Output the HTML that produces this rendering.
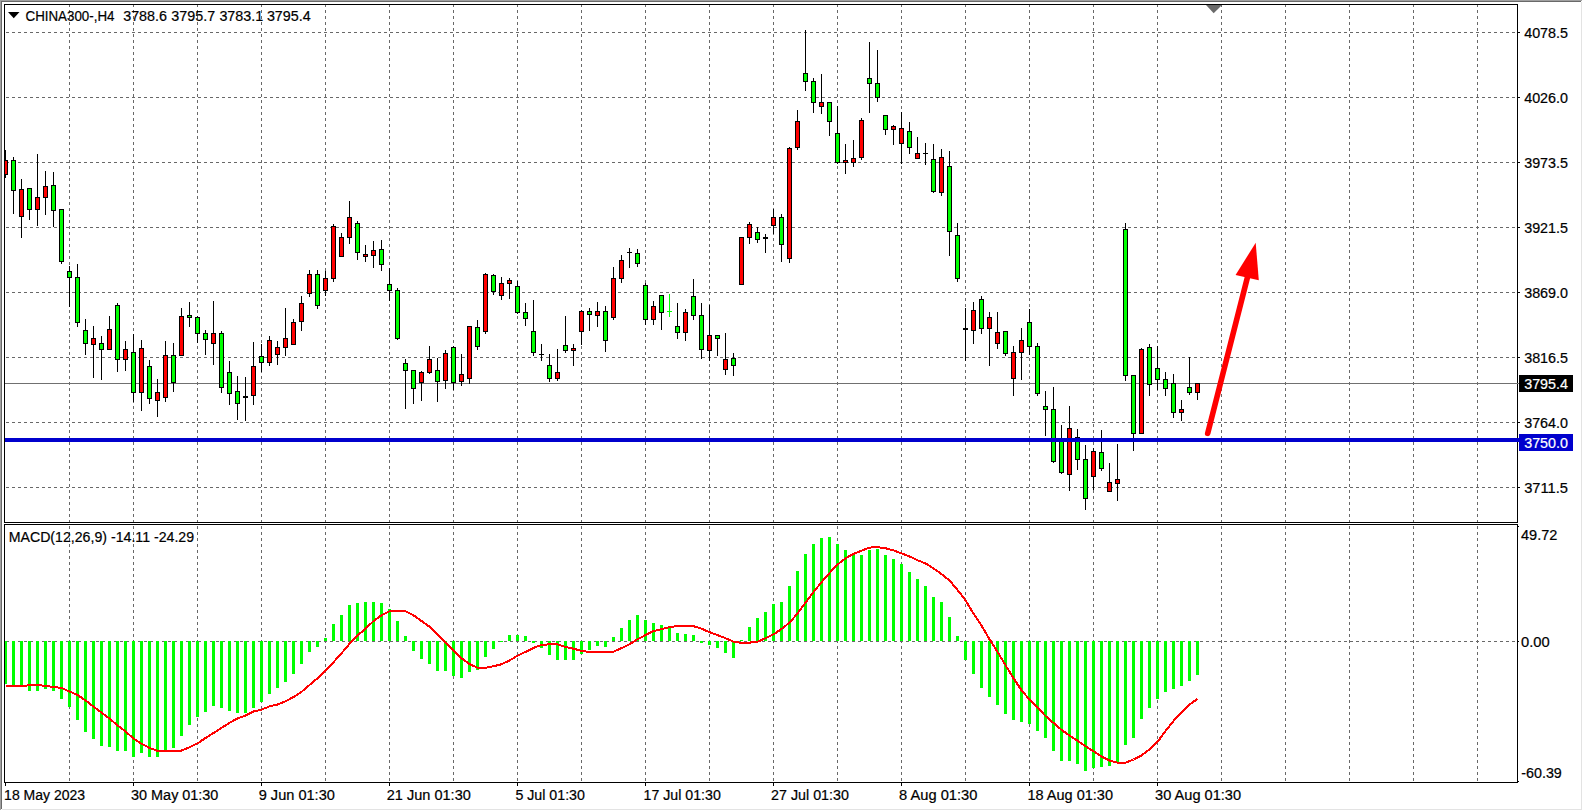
<!DOCTYPE html>
<html><head><meta charset="utf-8"><title>CHINA300-,H4</title>
<style>
html,body{margin:0;padding:0;background:#fff;}
body{width:1583px;height:811px;overflow:hidden;}
svg{display:block;}
text{font-family:"Liberation Sans",sans-serif;font-size:14px;fill:#000;stroke:#000;stroke-width:0.2px;}
.w{fill:#fff;stroke:#fff;}
</style></head><body>
<svg width="1583" height="811" viewBox="0 0 1583 811">
<rect x="0" y="0" width="1583" height="811" fill="#fff"/>

<g shape-rendering="crispEdges">
<rect x="0" y="0" width="1582" height="1" fill="#a0a0a0"/>
<rect x="0" y="0" width="1" height="810" fill="#a0a0a0"/>
<rect x="1" y="1" width="1580" height="1" fill="#696969"/>
<rect x="1" y="1" width="1" height="808" fill="#696969"/>
<rect x="1581" y="2" width="1" height="808" fill="#e3e3e3"/>
<rect x="2" y="809" width="1580" height="1" fill="#e3e3e3"/>
</g>
<g shape-rendering="crispEdges" stroke="#686868" stroke-width="1" fill="none">
<line x1="6" y1="32.5" x2="1517" y2="32.5" stroke-dasharray="3 3"/>
<line x1="6" y1="97.5" x2="1517" y2="97.5" stroke-dasharray="3 3"/>
<line x1="6" y1="162.5" x2="1517" y2="162.5" stroke-dasharray="3 3"/>
<line x1="6" y1="227.5" x2="1517" y2="227.5" stroke-dasharray="3 3"/>
<line x1="6" y1="292.5" x2="1517" y2="292.5" stroke-dasharray="3 3"/>
<line x1="6" y1="357.5" x2="1517" y2="357.5" stroke-dasharray="3 3"/>
<line x1="6" y1="422.5" x2="1517" y2="422.5" stroke-dasharray="3 3"/>
<line x1="6" y1="487.5" x2="1517" y2="487.5" stroke-dasharray="3 3"/>
<line x1="6" y1="641.5" x2="1517" y2="641.5" stroke-dasharray="3 3"/>
<line x1="69.5" y1="4" x2="69.5" y2="522" stroke-dasharray="3 3"/>
<line x1="69.5" y1="526" x2="69.5" y2="782" stroke-dasharray="3 3"/>
<line x1="133.5" y1="4" x2="133.5" y2="522" stroke-dasharray="3 3"/>
<line x1="133.5" y1="526" x2="133.5" y2="782" stroke-dasharray="3 3"/>
<line x1="197.5" y1="4" x2="197.5" y2="522" stroke-dasharray="3 3"/>
<line x1="197.5" y1="526" x2="197.5" y2="782" stroke-dasharray="3 3"/>
<line x1="261.5" y1="4" x2="261.5" y2="522" stroke-dasharray="3 3"/>
<line x1="261.5" y1="526" x2="261.5" y2="782" stroke-dasharray="3 3"/>
<line x1="325.5" y1="4" x2="325.5" y2="522" stroke-dasharray="3 3"/>
<line x1="325.5" y1="526" x2="325.5" y2="782" stroke-dasharray="3 3"/>
<line x1="389.5" y1="4" x2="389.5" y2="522" stroke-dasharray="3 3"/>
<line x1="389.5" y1="526" x2="389.5" y2="782" stroke-dasharray="3 3"/>
<line x1="453.5" y1="4" x2="453.5" y2="522" stroke-dasharray="3 3"/>
<line x1="453.5" y1="526" x2="453.5" y2="782" stroke-dasharray="3 3"/>
<line x1="517.5" y1="4" x2="517.5" y2="522" stroke-dasharray="3 3"/>
<line x1="517.5" y1="526" x2="517.5" y2="782" stroke-dasharray="3 3"/>
<line x1="581.5" y1="4" x2="581.5" y2="522" stroke-dasharray="3 3"/>
<line x1="581.5" y1="526" x2="581.5" y2="782" stroke-dasharray="3 3"/>
<line x1="645.5" y1="4" x2="645.5" y2="522" stroke-dasharray="3 3"/>
<line x1="645.5" y1="526" x2="645.5" y2="782" stroke-dasharray="3 3"/>
<line x1="709.5" y1="4" x2="709.5" y2="522" stroke-dasharray="3 3"/>
<line x1="709.5" y1="526" x2="709.5" y2="782" stroke-dasharray="3 3"/>
<line x1="773.5" y1="4" x2="773.5" y2="522" stroke-dasharray="3 3"/>
<line x1="773.5" y1="526" x2="773.5" y2="782" stroke-dasharray="3 3"/>
<line x1="837.5" y1="4" x2="837.5" y2="522" stroke-dasharray="3 3"/>
<line x1="837.5" y1="526" x2="837.5" y2="782" stroke-dasharray="3 3"/>
<line x1="901.5" y1="4" x2="901.5" y2="522" stroke-dasharray="3 3"/>
<line x1="901.5" y1="526" x2="901.5" y2="782" stroke-dasharray="3 3"/>
<line x1="965.5" y1="4" x2="965.5" y2="522" stroke-dasharray="3 3"/>
<line x1="965.5" y1="526" x2="965.5" y2="782" stroke-dasharray="3 3"/>
<line x1="1029.5" y1="4" x2="1029.5" y2="522" stroke-dasharray="3 3"/>
<line x1="1029.5" y1="526" x2="1029.5" y2="782" stroke-dasharray="3 3"/>
<line x1="1093.5" y1="4" x2="1093.5" y2="522" stroke-dasharray="3 3"/>
<line x1="1093.5" y1="526" x2="1093.5" y2="782" stroke-dasharray="3 3"/>
<line x1="1157.5" y1="4" x2="1157.5" y2="522" stroke-dasharray="3 3"/>
<line x1="1157.5" y1="526" x2="1157.5" y2="782" stroke-dasharray="3 3"/>
<line x1="1221.5" y1="4" x2="1221.5" y2="522" stroke-dasharray="3 3"/>
<line x1="1221.5" y1="526" x2="1221.5" y2="782" stroke-dasharray="3 3"/>
<line x1="1285.5" y1="4" x2="1285.5" y2="522" stroke-dasharray="3 3"/>
<line x1="1285.5" y1="526" x2="1285.5" y2="782" stroke-dasharray="3 3"/>
<line x1="1349.5" y1="4" x2="1349.5" y2="522" stroke-dasharray="3 3"/>
<line x1="1349.5" y1="526" x2="1349.5" y2="782" stroke-dasharray="3 3"/>
<line x1="1413.5" y1="4" x2="1413.5" y2="522" stroke-dasharray="3 3"/>
<line x1="1413.5" y1="526" x2="1413.5" y2="782" stroke-dasharray="3 3"/>
<line x1="1477.5" y1="4" x2="1477.5" y2="522" stroke-dasharray="3 3"/>
<line x1="1477.5" y1="526" x2="1477.5" y2="782" stroke-dasharray="3 3"/>
</g>
<g shape-rendering="crispEdges">
<rect x="5" y="383" width="1512" height="1" fill="#707070"/>
<rect x="5" y="150" width="1" height="28" fill="#000"/>
<rect x="3" y="160" width="5" height="15" fill="#000"/>
<rect x="4" y="161" width="3" height="13" fill="#ff0000"/>
<rect x="13" y="157" width="1" height="57" fill="#000"/>
<rect x="11" y="160" width="5" height="31" fill="#000"/>
<rect x="12" y="161" width="3" height="29" fill="#00ff00"/>
<rect x="21" y="179" width="1" height="59" fill="#000"/>
<rect x="19" y="189" width="5" height="28" fill="#000"/>
<rect x="20" y="190" width="3" height="26" fill="#ff0000"/>
<rect x="29" y="188" width="1" height="32" fill="#000"/>
<rect x="27" y="188" width="5" height="22" fill="#000"/>
<rect x="28" y="189" width="3" height="20" fill="#00ff00"/>
<rect x="37" y="154" width="1" height="72" fill="#000"/>
<rect x="35" y="197" width="5" height="13" fill="#000"/>
<rect x="36" y="198" width="3" height="11" fill="#ff0000"/>
<rect x="45" y="171" width="1" height="44" fill="#000"/>
<rect x="43" y="186" width="5" height="12" fill="#000"/>
<rect x="44" y="187" width="3" height="10" fill="#ff0000"/>
<rect x="53" y="172" width="1" height="55" fill="#000"/>
<rect x="51" y="185" width="5" height="26" fill="#000"/>
<rect x="52" y="186" width="3" height="24" fill="#00ff00"/>
<rect x="61" y="209" width="1" height="55" fill="#000"/>
<rect x="59" y="209" width="5" height="53" fill="#000"/>
<rect x="60" y="210" width="3" height="51" fill="#00ff00"/>
<rect x="69" y="266" width="1" height="41" fill="#000"/>
<rect x="67" y="271" width="5" height="7" fill="#000"/>
<rect x="68" y="272" width="3" height="5" fill="#00ff00"/>
<rect x="77" y="264" width="1" height="63" fill="#000"/>
<rect x="75" y="277" width="5" height="46" fill="#000"/>
<rect x="76" y="278" width="3" height="44" fill="#00ff00"/>
<rect x="85" y="319" width="1" height="36" fill="#000"/>
<rect x="83" y="330" width="5" height="14" fill="#000"/>
<rect x="84" y="331" width="3" height="12" fill="#00ff00"/>
<rect x="93" y="326" width="1" height="52" fill="#000"/>
<rect x="91" y="338" width="5" height="7" fill="#000"/>
<rect x="92" y="339" width="3" height="5" fill="#ff0000"/>
<rect x="101" y="336" width="1" height="44" fill="#000"/>
<rect x="99" y="343" width="5" height="7" fill="#000"/>
<rect x="100" y="344" width="3" height="5" fill="#00ff00"/>
<rect x="109" y="316" width="1" height="34" fill="#000"/>
<rect x="107" y="329" width="5" height="21" fill="#000"/>
<rect x="108" y="330" width="3" height="19" fill="#ff0000"/>
<rect x="117" y="303" width="1" height="69" fill="#000"/>
<rect x="115" y="305" width="5" height="55" fill="#000"/>
<rect x="116" y="306" width="3" height="53" fill="#00ff00"/>
<rect x="125" y="341" width="1" height="30" fill="#000"/>
<rect x="123" y="349" width="5" height="11" fill="#000"/>
<rect x="124" y="350" width="3" height="9" fill="#ff0000"/>
<rect x="133" y="334" width="1" height="68" fill="#000"/>
<rect x="131" y="352" width="5" height="41" fill="#000"/>
<rect x="132" y="353" width="3" height="39" fill="#00ff00"/>
<rect x="141" y="340" width="1" height="71" fill="#000"/>
<rect x="139" y="348" width="5" height="45" fill="#000"/>
<rect x="140" y="349" width="3" height="43" fill="#ff0000"/>
<rect x="149" y="360" width="1" height="44" fill="#000"/>
<rect x="147" y="366" width="5" height="33" fill="#000"/>
<rect x="148" y="367" width="3" height="31" fill="#00ff00"/>
<rect x="157" y="379" width="1" height="38" fill="#000"/>
<rect x="155" y="392" width="5" height="9" fill="#000"/>
<rect x="156" y="393" width="3" height="7" fill="#ff0000"/>
<rect x="165" y="341" width="1" height="61" fill="#000"/>
<rect x="163" y="355" width="5" height="43" fill="#000"/>
<rect x="164" y="356" width="3" height="41" fill="#ff0000"/>
<rect x="173" y="343" width="1" height="49" fill="#000"/>
<rect x="171" y="355" width="5" height="28" fill="#000"/>
<rect x="172" y="356" width="3" height="26" fill="#00ff00"/>
<rect x="181" y="308" width="1" height="48" fill="#000"/>
<rect x="179" y="316" width="5" height="40" fill="#000"/>
<rect x="180" y="317" width="3" height="38" fill="#ff0000"/>
<rect x="189" y="302" width="1" height="25" fill="#000"/>
<rect x="187" y="315" width="5" height="3" fill="#000"/>
<rect x="188" y="316" width="3" height="1" fill="#00ff00"/>
<rect x="197" y="316" width="1" height="27" fill="#000"/>
<rect x="195" y="317" width="5" height="17" fill="#000"/>
<rect x="196" y="318" width="3" height="15" fill="#00ff00"/>
<rect x="205" y="330" width="1" height="25" fill="#000"/>
<rect x="203" y="333" width="5" height="7" fill="#000"/>
<rect x="204" y="334" width="3" height="5" fill="#00ff00"/>
<rect x="213" y="301" width="1" height="64" fill="#000"/>
<rect x="211" y="333" width="5" height="11" fill="#000"/>
<rect x="212" y="334" width="3" height="9" fill="#ff0000"/>
<rect x="221" y="331" width="1" height="62" fill="#000"/>
<rect x="219" y="333" width="5" height="55" fill="#000"/>
<rect x="220" y="334" width="3" height="53" fill="#00ff00"/>
<rect x="229" y="361" width="1" height="44" fill="#000"/>
<rect x="227" y="372" width="5" height="22" fill="#000"/>
<rect x="228" y="373" width="3" height="20" fill="#00ff00"/>
<rect x="237" y="376" width="1" height="44" fill="#000"/>
<rect x="235" y="391" width="5" height="13" fill="#000"/>
<rect x="236" y="392" width="3" height="11" fill="#00ff00"/>
<rect x="245" y="377" width="1" height="44" fill="#000"/>
<rect x="243" y="396" width="5" height="2" fill="#000"/>
<rect x="253" y="342" width="1" height="63" fill="#000"/>
<rect x="251" y="366" width="5" height="30" fill="#000"/>
<rect x="252" y="367" width="3" height="28" fill="#ff0000"/>
<rect x="261" y="344" width="1" height="28" fill="#000"/>
<rect x="259" y="356" width="5" height="7" fill="#000"/>
<rect x="260" y="357" width="3" height="5" fill="#00ff00"/>
<rect x="269" y="336" width="1" height="30" fill="#000"/>
<rect x="267" y="340" width="5" height="23" fill="#000"/>
<rect x="268" y="341" width="3" height="21" fill="#ff0000"/>
<rect x="277" y="341" width="1" height="24" fill="#000"/>
<rect x="275" y="347" width="5" height="8" fill="#000"/>
<rect x="276" y="348" width="3" height="6" fill="#ff0000"/>
<rect x="285" y="308" width="1" height="48" fill="#000"/>
<rect x="283" y="338" width="5" height="10" fill="#000"/>
<rect x="284" y="339" width="3" height="8" fill="#ff0000"/>
<rect x="293" y="319" width="1" height="26" fill="#000"/>
<rect x="291" y="322" width="5" height="23" fill="#000"/>
<rect x="292" y="323" width="3" height="21" fill="#ff0000"/>
<rect x="301" y="296" width="1" height="35" fill="#000"/>
<rect x="299" y="303" width="5" height="19" fill="#000"/>
<rect x="300" y="304" width="3" height="17" fill="#ff0000"/>
<rect x="309" y="270" width="1" height="27" fill="#000"/>
<rect x="307" y="274" width="5" height="20" fill="#000"/>
<rect x="308" y="275" width="3" height="18" fill="#ff0000"/>
<rect x="317" y="270" width="1" height="39" fill="#000"/>
<rect x="315" y="274" width="5" height="32" fill="#000"/>
<rect x="316" y="275" width="3" height="30" fill="#00ff00"/>
<rect x="325" y="271" width="1" height="25" fill="#000"/>
<rect x="323" y="278" width="5" height="13" fill="#000"/>
<rect x="324" y="279" width="3" height="11" fill="#ff0000"/>
<rect x="333" y="224" width="1" height="58" fill="#000"/>
<rect x="331" y="226" width="5" height="53" fill="#000"/>
<rect x="332" y="227" width="3" height="51" fill="#ff0000"/>
<rect x="341" y="233" width="1" height="24" fill="#000"/>
<rect x="339" y="237" width="5" height="20" fill="#000"/>
<rect x="340" y="238" width="3" height="18" fill="#ff0000"/>
<rect x="349" y="201" width="1" height="43" fill="#000"/>
<rect x="347" y="217" width="5" height="21" fill="#000"/>
<rect x="348" y="218" width="3" height="19" fill="#ff0000"/>
<rect x="357" y="221" width="1" height="39" fill="#000"/>
<rect x="355" y="223" width="5" height="30" fill="#000"/>
<rect x="356" y="224" width="3" height="28" fill="#00ff00"/>
<rect x="365" y="245" width="1" height="17" fill="#000"/>
<rect x="363" y="254" width="5" height="3" fill="#000"/>
<rect x="364" y="255" width="3" height="1" fill="#ff0000"/>
<rect x="373" y="241" width="1" height="27" fill="#000"/>
<rect x="371" y="250" width="5" height="6" fill="#000"/>
<rect x="372" y="251" width="3" height="4" fill="#ff0000"/>
<rect x="381" y="240" width="1" height="31" fill="#000"/>
<rect x="379" y="249" width="5" height="16" fill="#000"/>
<rect x="380" y="250" width="3" height="14" fill="#00ff00"/>
<rect x="389" y="268" width="1" height="33" fill="#000"/>
<rect x="387" y="284" width="5" height="7" fill="#000"/>
<rect x="388" y="285" width="3" height="5" fill="#00ff00"/>
<rect x="397" y="288" width="1" height="52" fill="#000"/>
<rect x="395" y="290" width="5" height="49" fill="#000"/>
<rect x="396" y="291" width="3" height="47" fill="#00ff00"/>
<rect x="405" y="359" width="1" height="50" fill="#000"/>
<rect x="403" y="363" width="5" height="8" fill="#000"/>
<rect x="404" y="364" width="3" height="6" fill="#00ff00"/>
<rect x="413" y="370" width="1" height="34" fill="#000"/>
<rect x="411" y="370" width="5" height="19" fill="#000"/>
<rect x="412" y="371" width="3" height="17" fill="#00ff00"/>
<rect x="421" y="371" width="1" height="30" fill="#000"/>
<rect x="419" y="372" width="5" height="11" fill="#000"/>
<rect x="420" y="373" width="3" height="9" fill="#ff0000"/>
<rect x="429" y="346" width="1" height="28" fill="#000"/>
<rect x="427" y="359" width="5" height="14" fill="#000"/>
<rect x="428" y="360" width="3" height="12" fill="#ff0000"/>
<rect x="437" y="358" width="1" height="44" fill="#000"/>
<rect x="435" y="370" width="5" height="12" fill="#000"/>
<rect x="436" y="371" width="3" height="10" fill="#00ff00"/>
<rect x="445" y="350" width="1" height="39" fill="#000"/>
<rect x="443" y="353" width="5" height="28" fill="#000"/>
<rect x="444" y="354" width="3" height="26" fill="#ff0000"/>
<rect x="453" y="346" width="1" height="44" fill="#000"/>
<rect x="451" y="347" width="5" height="36" fill="#000"/>
<rect x="452" y="348" width="3" height="34" fill="#00ff00"/>
<rect x="461" y="354" width="1" height="32" fill="#000"/>
<rect x="459" y="374" width="5" height="8" fill="#000"/>
<rect x="460" y="375" width="3" height="6" fill="#ff0000"/>
<rect x="469" y="326" width="1" height="58" fill="#000"/>
<rect x="467" y="326" width="5" height="53" fill="#000"/>
<rect x="468" y="327" width="3" height="51" fill="#ff0000"/>
<rect x="477" y="320" width="1" height="30" fill="#000"/>
<rect x="475" y="327" width="5" height="20" fill="#000"/>
<rect x="476" y="328" width="3" height="18" fill="#00ff00"/>
<rect x="485" y="273" width="1" height="61" fill="#000"/>
<rect x="483" y="274" width="5" height="58" fill="#000"/>
<rect x="484" y="275" width="3" height="56" fill="#ff0000"/>
<rect x="493" y="274" width="1" height="21" fill="#000"/>
<rect x="491" y="275" width="5" height="17" fill="#000"/>
<rect x="492" y="276" width="3" height="15" fill="#00ff00"/>
<rect x="501" y="277" width="1" height="23" fill="#000"/>
<rect x="499" y="283" width="5" height="13" fill="#000"/>
<rect x="500" y="284" width="3" height="11" fill="#ff0000"/>
<rect x="509" y="278" width="1" height="21" fill="#000"/>
<rect x="507" y="280" width="5" height="4" fill="#000"/>
<rect x="508" y="281" width="3" height="2" fill="#ff0000"/>
<rect x="517" y="281" width="1" height="33" fill="#000"/>
<rect x="515" y="286" width="5" height="27" fill="#000"/>
<rect x="516" y="287" width="3" height="25" fill="#00ff00"/>
<rect x="525" y="303" width="1" height="23" fill="#000"/>
<rect x="523" y="312" width="5" height="7" fill="#000"/>
<rect x="524" y="313" width="3" height="5" fill="#00ff00"/>
<rect x="533" y="300" width="1" height="56" fill="#000"/>
<rect x="531" y="331" width="5" height="22" fill="#000"/>
<rect x="532" y="332" width="3" height="20" fill="#00ff00"/>
<rect x="541" y="344" width="1" height="17" fill="#000"/>
<rect x="539" y="354" width="5" height="1" fill="#000"/>
<rect x="549" y="354" width="1" height="28" fill="#000"/>
<rect x="547" y="365" width="5" height="14" fill="#000"/>
<rect x="548" y="366" width="3" height="12" fill="#00ff00"/>
<rect x="557" y="349" width="1" height="32" fill="#000"/>
<rect x="555" y="372" width="5" height="7" fill="#000"/>
<rect x="556" y="373" width="3" height="5" fill="#ff0000"/>
<rect x="565" y="316" width="1" height="37" fill="#000"/>
<rect x="563" y="345" width="5" height="6" fill="#000"/>
<rect x="564" y="346" width="3" height="4" fill="#00ff00"/>
<rect x="573" y="344" width="1" height="22" fill="#000"/>
<rect x="571" y="348" width="5" height="3" fill="#000"/>
<rect x="572" y="349" width="3" height="1" fill="#ff0000"/>
<rect x="581" y="310" width="1" height="35" fill="#000"/>
<rect x="579" y="311" width="5" height="21" fill="#000"/>
<rect x="580" y="312" width="3" height="19" fill="#ff0000"/>
<rect x="589" y="308" width="1" height="23" fill="#000"/>
<rect x="587" y="311" width="5" height="4" fill="#000"/>
<rect x="588" y="312" width="3" height="2" fill="#00ff00"/>
<rect x="597" y="302" width="1" height="25" fill="#000"/>
<rect x="595" y="311" width="5" height="5" fill="#000"/>
<rect x="596" y="312" width="3" height="3" fill="#ff0000"/>
<rect x="605" y="306" width="1" height="46" fill="#000"/>
<rect x="603" y="311" width="5" height="30" fill="#000"/>
<rect x="604" y="312" width="3" height="28" fill="#00ff00"/>
<rect x="613" y="267" width="1" height="53" fill="#000"/>
<rect x="611" y="278" width="5" height="40" fill="#000"/>
<rect x="612" y="279" width="3" height="38" fill="#ff0000"/>
<rect x="621" y="255" width="1" height="28" fill="#000"/>
<rect x="619" y="260" width="5" height="19" fill="#000"/>
<rect x="620" y="261" width="3" height="17" fill="#ff0000"/>
<rect x="629" y="248" width="1" height="20" fill="#000"/>
<rect x="627" y="252" width="5" height="1" fill="#000"/>
<rect x="637" y="249" width="1" height="18" fill="#000"/>
<rect x="635" y="253" width="5" height="11" fill="#000"/>
<rect x="636" y="254" width="3" height="9" fill="#00ff00"/>
<rect x="645" y="283" width="1" height="42" fill="#000"/>
<rect x="643" y="285" width="5" height="35" fill="#000"/>
<rect x="644" y="286" width="3" height="33" fill="#00ff00"/>
<rect x="653" y="301" width="1" height="24" fill="#000"/>
<rect x="651" y="306" width="5" height="14" fill="#000"/>
<rect x="652" y="307" width="3" height="12" fill="#ff0000"/>
<rect x="661" y="295" width="1" height="35" fill="#000"/>
<rect x="659" y="295" width="5" height="18" fill="#000"/>
<rect x="660" y="296" width="3" height="16" fill="#00ff00"/>
<rect x="669" y="294" width="1" height="23" fill="#00ff00"/>
<rect x="667" y="311" width="5" height="1" fill="#00ff00"/>
<rect x="677" y="303" width="1" height="36" fill="#000"/>
<rect x="675" y="326" width="5" height="7" fill="#000"/>
<rect x="676" y="327" width="3" height="5" fill="#00ff00"/>
<rect x="685" y="309" width="1" height="32" fill="#000"/>
<rect x="683" y="312" width="5" height="21" fill="#000"/>
<rect x="684" y="313" width="3" height="19" fill="#ff0000"/>
<rect x="693" y="279" width="1" height="41" fill="#000"/>
<rect x="691" y="296" width="5" height="20" fill="#000"/>
<rect x="692" y="297" width="3" height="18" fill="#00ff00"/>
<rect x="701" y="303" width="1" height="56" fill="#000"/>
<rect x="699" y="315" width="5" height="35" fill="#000"/>
<rect x="700" y="316" width="3" height="33" fill="#00ff00"/>
<rect x="709" y="305" width="1" height="56" fill="#000"/>
<rect x="707" y="335" width="5" height="16" fill="#000"/>
<rect x="708" y="336" width="3" height="14" fill="#ff0000"/>
<rect x="717" y="335" width="1" height="21" fill="#000"/>
<rect x="715" y="335" width="5" height="4" fill="#000"/>
<rect x="716" y="336" width="3" height="2" fill="#00ff00"/>
<rect x="725" y="333" width="1" height="42" fill="#000"/>
<rect x="723" y="359" width="5" height="11" fill="#000"/>
<rect x="724" y="360" width="3" height="9" fill="#ff0000"/>
<rect x="733" y="353" width="1" height="23" fill="#000"/>
<rect x="731" y="358" width="5" height="8" fill="#000"/>
<rect x="732" y="359" width="3" height="6" fill="#00ff00"/>
<rect x="741" y="237" width="1" height="48" fill="#000"/>
<rect x="739" y="237" width="5" height="48" fill="#000"/>
<rect x="740" y="238" width="3" height="46" fill="#ff0000"/>
<rect x="749" y="222" width="1" height="22" fill="#000"/>
<rect x="747" y="224" width="5" height="14" fill="#000"/>
<rect x="748" y="225" width="3" height="12" fill="#ff0000"/>
<rect x="757" y="227" width="1" height="16" fill="#000"/>
<rect x="755" y="232" width="5" height="8" fill="#000"/>
<rect x="756" y="233" width="3" height="6" fill="#00ff00"/>
<rect x="765" y="234" width="1" height="19" fill="#000"/>
<rect x="763" y="237" width="5" height="2" fill="#000"/>
<rect x="773" y="209" width="1" height="25" fill="#000"/>
<rect x="771" y="217" width="5" height="9" fill="#000"/>
<rect x="772" y="218" width="3" height="7" fill="#ff0000"/>
<rect x="781" y="214" width="1" height="48" fill="#000"/>
<rect x="779" y="217" width="5" height="28" fill="#000"/>
<rect x="780" y="218" width="3" height="26" fill="#00ff00"/>
<rect x="789" y="147" width="1" height="116" fill="#000"/>
<rect x="787" y="148" width="5" height="111" fill="#000"/>
<rect x="788" y="149" width="3" height="109" fill="#ff0000"/>
<rect x="797" y="110" width="1" height="40" fill="#000"/>
<rect x="795" y="121" width="5" height="27" fill="#000"/>
<rect x="796" y="122" width="3" height="25" fill="#ff0000"/>
<rect x="805" y="30" width="1" height="61" fill="#000"/>
<rect x="803" y="73" width="5" height="9" fill="#000"/>
<rect x="804" y="74" width="3" height="7" fill="#00ff00"/>
<rect x="813" y="78" width="1" height="35" fill="#000"/>
<rect x="811" y="81" width="5" height="22" fill="#000"/>
<rect x="812" y="82" width="3" height="20" fill="#00ff00"/>
<rect x="821" y="74" width="1" height="40" fill="#000"/>
<rect x="819" y="102" width="5" height="5" fill="#000"/>
<rect x="820" y="103" width="3" height="3" fill="#ff0000"/>
<rect x="829" y="102" width="1" height="34" fill="#000"/>
<rect x="827" y="102" width="5" height="20" fill="#000"/>
<rect x="828" y="103" width="3" height="18" fill="#00ff00"/>
<rect x="837" y="106" width="1" height="58" fill="#000"/>
<rect x="835" y="133" width="5" height="30" fill="#000"/>
<rect x="836" y="134" width="3" height="28" fill="#00ff00"/>
<rect x="845" y="144" width="1" height="30" fill="#000"/>
<rect x="843" y="160" width="5" height="3" fill="#000"/>
<rect x="844" y="161" width="3" height="1" fill="#ff0000"/>
<rect x="853" y="140" width="1" height="27" fill="#000"/>
<rect x="851" y="158" width="5" height="5" fill="#000"/>
<rect x="852" y="159" width="3" height="3" fill="#ff0000"/>
<rect x="861" y="118" width="1" height="42" fill="#000"/>
<rect x="859" y="120" width="5" height="38" fill="#000"/>
<rect x="860" y="121" width="3" height="36" fill="#ff0000"/>
<rect x="869" y="42" width="1" height="71" fill="#000"/>
<rect x="867" y="78" width="5" height="6" fill="#000"/>
<rect x="868" y="79" width="3" height="4" fill="#00ff00"/>
<rect x="877" y="50" width="1" height="52" fill="#000"/>
<rect x="875" y="83" width="5" height="15" fill="#000"/>
<rect x="876" y="84" width="3" height="13" fill="#00ff00"/>
<rect x="885" y="115" width="1" height="20" fill="#000"/>
<rect x="883" y="115" width="5" height="15" fill="#000"/>
<rect x="884" y="116" width="3" height="13" fill="#00ff00"/>
<rect x="893" y="125" width="1" height="20" fill="#000"/>
<rect x="891" y="126" width="5" height="4" fill="#000"/>
<rect x="892" y="127" width="3" height="2" fill="#ff0000"/>
<rect x="901" y="112" width="1" height="52" fill="#000"/>
<rect x="899" y="128" width="5" height="16" fill="#000"/>
<rect x="900" y="129" width="3" height="14" fill="#ff0000"/>
<rect x="909" y="122" width="1" height="32" fill="#000"/>
<rect x="907" y="131" width="5" height="17" fill="#000"/>
<rect x="908" y="132" width="3" height="15" fill="#00ff00"/>
<rect x="917" y="137" width="1" height="22" fill="#000"/>
<rect x="915" y="153" width="5" height="6" fill="#000"/>
<rect x="916" y="154" width="3" height="4" fill="#ff0000"/>
<rect x="925" y="143" width="1" height="22" fill="#000"/>
<rect x="923" y="153" width="5" height="1" fill="#000"/>
<rect x="933" y="144" width="1" height="49" fill="#000"/>
<rect x="931" y="159" width="5" height="33" fill="#000"/>
<rect x="932" y="160" width="3" height="31" fill="#00ff00"/>
<rect x="941" y="149" width="1" height="47" fill="#000"/>
<rect x="939" y="157" width="5" height="36" fill="#000"/>
<rect x="940" y="158" width="3" height="34" fill="#ff0000"/>
<rect x="949" y="151" width="1" height="105" fill="#000"/>
<rect x="947" y="166" width="5" height="66" fill="#000"/>
<rect x="948" y="167" width="3" height="64" fill="#00ff00"/>
<rect x="957" y="223" width="1" height="59" fill="#000"/>
<rect x="955" y="235" width="5" height="44" fill="#000"/>
<rect x="956" y="236" width="3" height="42" fill="#00ff00"/>
<rect x="965" y="308" width="1" height="53" fill="#000"/>
<rect x="963" y="328" width="5" height="2" fill="#000"/>
<rect x="973" y="302" width="1" height="42" fill="#000"/>
<rect x="971" y="310" width="5" height="21" fill="#000"/>
<rect x="972" y="311" width="3" height="19" fill="#ff0000"/>
<rect x="981" y="296" width="1" height="38" fill="#000"/>
<rect x="979" y="299" width="5" height="30" fill="#000"/>
<rect x="980" y="300" width="3" height="28" fill="#00ff00"/>
<rect x="989" y="312" width="1" height="54" fill="#000"/>
<rect x="987" y="317" width="5" height="12" fill="#000"/>
<rect x="988" y="318" width="3" height="10" fill="#ff0000"/>
<rect x="997" y="312" width="1" height="37" fill="#000"/>
<rect x="995" y="332" width="5" height="12" fill="#000"/>
<rect x="996" y="333" width="3" height="10" fill="#ff0000"/>
<rect x="1005" y="331" width="1" height="25" fill="#000"/>
<rect x="1003" y="331" width="5" height="23" fill="#000"/>
<rect x="1004" y="332" width="3" height="21" fill="#00ff00"/>
<rect x="1013" y="346" width="1" height="50" fill="#000"/>
<rect x="1011" y="352" width="5" height="27" fill="#000"/>
<rect x="1012" y="353" width="3" height="25" fill="#ff0000"/>
<rect x="1021" y="328" width="1" height="52" fill="#000"/>
<rect x="1019" y="340" width="5" height="13" fill="#000"/>
<rect x="1020" y="341" width="3" height="11" fill="#ff0000"/>
<rect x="1029" y="309" width="1" height="46" fill="#000"/>
<rect x="1027" y="322" width="5" height="25" fill="#000"/>
<rect x="1028" y="323" width="3" height="23" fill="#00ff00"/>
<rect x="1037" y="343" width="1" height="53" fill="#000"/>
<rect x="1035" y="346" width="5" height="48" fill="#000"/>
<rect x="1036" y="347" width="3" height="46" fill="#00ff00"/>
<rect x="1045" y="391" width="1" height="45" fill="#000"/>
<rect x="1043" y="406" width="5" height="4" fill="#000"/>
<rect x="1044" y="407" width="3" height="2" fill="#00ff00"/>
<rect x="1053" y="387" width="1" height="76" fill="#000"/>
<rect x="1051" y="409" width="5" height="53" fill="#000"/>
<rect x="1052" y="410" width="3" height="51" fill="#00ff00"/>
<rect x="1061" y="425" width="1" height="49" fill="#000"/>
<rect x="1059" y="439" width="5" height="34" fill="#000"/>
<rect x="1060" y="440" width="3" height="32" fill="#00ff00"/>
<rect x="1069" y="406" width="1" height="85" fill="#000"/>
<rect x="1067" y="428" width="5" height="47" fill="#000"/>
<rect x="1068" y="429" width="3" height="45" fill="#ff0000"/>
<rect x="1077" y="429" width="1" height="41" fill="#000"/>
<rect x="1075" y="437" width="5" height="23" fill="#000"/>
<rect x="1076" y="438" width="3" height="21" fill="#00ff00"/>
<rect x="1085" y="445" width="1" height="65" fill="#000"/>
<rect x="1083" y="459" width="5" height="40" fill="#000"/>
<rect x="1084" y="460" width="3" height="38" fill="#00ff00"/>
<rect x="1093" y="448" width="1" height="42" fill="#000"/>
<rect x="1091" y="451" width="5" height="26" fill="#000"/>
<rect x="1092" y="452" width="3" height="24" fill="#ff0000"/>
<rect x="1101" y="430" width="1" height="41" fill="#000"/>
<rect x="1099" y="452" width="5" height="17" fill="#000"/>
<rect x="1100" y="453" width="3" height="15" fill="#00ff00"/>
<rect x="1109" y="463" width="1" height="29" fill="#000"/>
<rect x="1107" y="482" width="5" height="10" fill="#000"/>
<rect x="1108" y="483" width="3" height="8" fill="#ff0000"/>
<rect x="1117" y="444" width="1" height="57" fill="#000"/>
<rect x="1115" y="479" width="5" height="5" fill="#000"/>
<rect x="1116" y="480" width="3" height="3" fill="#ff0000"/>
<rect x="1125" y="223" width="1" height="158" fill="#000"/>
<rect x="1123" y="229" width="5" height="147" fill="#000"/>
<rect x="1124" y="230" width="3" height="145" fill="#00ff00"/>
<rect x="1133" y="375" width="1" height="76" fill="#000"/>
<rect x="1131" y="375" width="5" height="59" fill="#000"/>
<rect x="1132" y="376" width="3" height="57" fill="#00ff00"/>
<rect x="1141" y="348" width="1" height="86" fill="#000"/>
<rect x="1139" y="349" width="5" height="85" fill="#000"/>
<rect x="1140" y="350" width="3" height="83" fill="#ff0000"/>
<rect x="1149" y="344" width="1" height="52" fill="#000"/>
<rect x="1147" y="347" width="5" height="38" fill="#000"/>
<rect x="1148" y="348" width="3" height="36" fill="#00ff00"/>
<rect x="1157" y="346" width="1" height="44" fill="#000"/>
<rect x="1155" y="368" width="5" height="12" fill="#000"/>
<rect x="1156" y="369" width="3" height="10" fill="#00ff00"/>
<rect x="1165" y="372" width="1" height="24" fill="#000"/>
<rect x="1163" y="379" width="5" height="10" fill="#000"/>
<rect x="1164" y="380" width="3" height="8" fill="#00ff00"/>
<rect x="1173" y="374" width="1" height="44" fill="#000"/>
<rect x="1171" y="383" width="5" height="30" fill="#000"/>
<rect x="1172" y="384" width="3" height="28" fill="#00ff00"/>
<rect x="1181" y="400" width="1" height="21" fill="#000"/>
<rect x="1179" y="409" width="5" height="4" fill="#000"/>
<rect x="1180" y="410" width="3" height="2" fill="#ff0000"/>
<rect x="1189" y="357" width="1" height="38" fill="#000"/>
<rect x="1187" y="387" width="5" height="6" fill="#000"/>
<rect x="1188" y="388" width="3" height="4" fill="#00ff00"/>
<rect x="1197" y="383" width="1" height="17" fill="#000"/>
<rect x="1195" y="383" width="5" height="10" fill="#000"/>
<rect x="1196" y="384" width="3" height="8" fill="#ff0000"/>
<rect x="4" y="641" width="3" height="43" fill="#00ff00"/>
<rect x="12" y="641" width="3" height="44" fill="#00ff00"/>
<rect x="20" y="641" width="3" height="45" fill="#00ff00"/>
<rect x="28" y="641" width="3" height="50" fill="#00ff00"/>
<rect x="36" y="641" width="3" height="50" fill="#00ff00"/>
<rect x="44" y="641" width="3" height="48" fill="#00ff00"/>
<rect x="52" y="641" width="3" height="50" fill="#00ff00"/>
<rect x="60" y="641" width="3" height="58" fill="#00ff00"/>
<rect x="68" y="641" width="3" height="66" fill="#00ff00"/>
<rect x="76" y="641" width="3" height="79" fill="#00ff00"/>
<rect x="84" y="641" width="3" height="91" fill="#00ff00"/>
<rect x="92" y="641" width="3" height="98" fill="#00ff00"/>
<rect x="100" y="641" width="3" height="105" fill="#00ff00"/>
<rect x="108" y="641" width="3" height="106" fill="#00ff00"/>
<rect x="116" y="641" width="3" height="110" fill="#00ff00"/>
<rect x="124" y="641" width="3" height="110" fill="#00ff00"/>
<rect x="132" y="641" width="3" height="116" fill="#00ff00"/>
<rect x="140" y="641" width="3" height="112" fill="#00ff00"/>
<rect x="148" y="641" width="3" height="116" fill="#00ff00"/>
<rect x="156" y="641" width="3" height="116" fill="#00ff00"/>
<rect x="164" y="641" width="3" height="109" fill="#00ff00"/>
<rect x="172" y="641" width="3" height="107" fill="#00ff00"/>
<rect x="180" y="641" width="3" height="95" fill="#00ff00"/>
<rect x="188" y="641" width="3" height="84" fill="#00ff00"/>
<rect x="196" y="641" width="3" height="76" fill="#00ff00"/>
<rect x="204" y="641" width="3" height="71" fill="#00ff00"/>
<rect x="212" y="641" width="3" height="65" fill="#00ff00"/>
<rect x="220" y="641" width="3" height="67" fill="#00ff00"/>
<rect x="228" y="641" width="3" height="70" fill="#00ff00"/>
<rect x="236" y="641" width="3" height="72" fill="#00ff00"/>
<rect x="244" y="641" width="3" height="72" fill="#00ff00"/>
<rect x="252" y="641" width="3" height="67" fill="#00ff00"/>
<rect x="260" y="641" width="3" height="61" fill="#00ff00"/>
<rect x="268" y="641" width="3" height="53" fill="#00ff00"/>
<rect x="276" y="641" width="3" height="47" fill="#00ff00"/>
<rect x="284" y="641" width="3" height="41" fill="#00ff00"/>
<rect x="292" y="641" width="3" height="33" fill="#00ff00"/>
<rect x="300" y="641" width="3" height="23" fill="#00ff00"/>
<rect x="308" y="641" width="3" height="11" fill="#00ff00"/>
<rect x="316" y="641" width="3" height="6" fill="#00ff00"/>
<rect x="324" y="638" width="3" height="3" fill="#00ff00"/>
<rect x="332" y="624" width="3" height="17" fill="#00ff00"/>
<rect x="340" y="615" width="3" height="26" fill="#00ff00"/>
<rect x="348" y="605" width="3" height="36" fill="#00ff00"/>
<rect x="356" y="603" width="3" height="38" fill="#00ff00"/>
<rect x="364" y="602" width="3" height="39" fill="#00ff00"/>
<rect x="372" y="602" width="3" height="39" fill="#00ff00"/>
<rect x="380" y="603" width="3" height="38" fill="#00ff00"/>
<rect x="388" y="609" width="3" height="32" fill="#00ff00"/>
<rect x="396" y="621" width="3" height="20" fill="#00ff00"/>
<rect x="404" y="636" width="3" height="5" fill="#00ff00"/>
<rect x="412" y="641" width="3" height="10" fill="#00ff00"/>
<rect x="420" y="641" width="3" height="18" fill="#00ff00"/>
<rect x="428" y="641" width="3" height="23" fill="#00ff00"/>
<rect x="436" y="641" width="3" height="30" fill="#00ff00"/>
<rect x="444" y="641" width="3" height="30" fill="#00ff00"/>
<rect x="452" y="641" width="3" height="35" fill="#00ff00"/>
<rect x="460" y="641" width="3" height="37" fill="#00ff00"/>
<rect x="468" y="641" width="3" height="31" fill="#00ff00"/>
<rect x="476" y="641" width="3" height="29" fill="#00ff00"/>
<rect x="484" y="641" width="3" height="16" fill="#00ff00"/>
<rect x="492" y="641" width="3" height="8" fill="#00ff00"/>
<rect x="500" y="641" width="3" height="1" fill="#00ff00"/>
<rect x="508" y="635" width="3" height="6" fill="#00ff00"/>
<rect x="516" y="635" width="3" height="6" fill="#00ff00"/>
<rect x="524" y="636" width="3" height="5" fill="#00ff00"/>
<rect x="532" y="641" width="3" height="2" fill="#00ff00"/>
<rect x="540" y="641" width="3" height="7" fill="#00ff00"/>
<rect x="548" y="641" width="3" height="14" fill="#00ff00"/>
<rect x="556" y="641" width="3" height="19" fill="#00ff00"/>
<rect x="564" y="641" width="3" height="19" fill="#00ff00"/>
<rect x="572" y="641" width="3" height="19" fill="#00ff00"/>
<rect x="580" y="641" width="3" height="13" fill="#00ff00"/>
<rect x="588" y="641" width="3" height="9" fill="#00ff00"/>
<rect x="596" y="641" width="3" height="5" fill="#00ff00"/>
<rect x="604" y="641" width="3" height="6" fill="#00ff00"/>
<rect x="612" y="637" width="3" height="4" fill="#00ff00"/>
<rect x="620" y="628" width="3" height="13" fill="#00ff00"/>
<rect x="628" y="620" width="3" height="21" fill="#00ff00"/>
<rect x="636" y="615" width="3" height="26" fill="#00ff00"/>
<rect x="644" y="620" width="3" height="21" fill="#00ff00"/>
<rect x="652" y="623" width="3" height="18" fill="#00ff00"/>
<rect x="660" y="625" width="3" height="16" fill="#00ff00"/>
<rect x="668" y="628" width="3" height="13" fill="#00ff00"/>
<rect x="676" y="633" width="3" height="8" fill="#00ff00"/>
<rect x="684" y="634" width="3" height="7" fill="#00ff00"/>
<rect x="692" y="635" width="3" height="6" fill="#00ff00"/>
<rect x="700" y="641" width="3" height="2" fill="#00ff00"/>
<rect x="708" y="641" width="3" height="4" fill="#00ff00"/>
<rect x="716" y="641" width="3" height="7" fill="#00ff00"/>
<rect x="724" y="641" width="3" height="12" fill="#00ff00"/>
<rect x="732" y="641" width="3" height="17" fill="#00ff00"/>
<rect x="740" y="640" width="3" height="1" fill="#00ff00"/>
<rect x="748" y="627" width="3" height="14" fill="#00ff00"/>
<rect x="756" y="618" width="3" height="23" fill="#00ff00"/>
<rect x="764" y="612" width="3" height="29" fill="#00ff00"/>
<rect x="772" y="604" width="3" height="37" fill="#00ff00"/>
<rect x="780" y="602" width="3" height="39" fill="#00ff00"/>
<rect x="788" y="586" width="3" height="55" fill="#00ff00"/>
<rect x="796" y="571" width="3" height="70" fill="#00ff00"/>
<rect x="804" y="554" width="3" height="87" fill="#00ff00"/>
<rect x="812" y="544" width="3" height="97" fill="#00ff00"/>
<rect x="820" y="538" width="3" height="103" fill="#00ff00"/>
<rect x="828" y="537" width="3" height="104" fill="#00ff00"/>
<rect x="836" y="544" width="3" height="97" fill="#00ff00"/>
<rect x="844" y="550" width="3" height="91" fill="#00ff00"/>
<rect x="852" y="555" width="3" height="86" fill="#00ff00"/>
<rect x="860" y="555" width="3" height="86" fill="#00ff00"/>
<rect x="868" y="550" width="3" height="91" fill="#00ff00"/>
<rect x="876" y="549" width="3" height="92" fill="#00ff00"/>
<rect x="884" y="555" width="3" height="86" fill="#00ff00"/>
<rect x="892" y="559" width="3" height="82" fill="#00ff00"/>
<rect x="900" y="564" width="3" height="77" fill="#00ff00"/>
<rect x="908" y="572" width="3" height="69" fill="#00ff00"/>
<rect x="916" y="579" width="3" height="62" fill="#00ff00"/>
<rect x="924" y="586" width="3" height="55" fill="#00ff00"/>
<rect x="932" y="597" width="3" height="44" fill="#00ff00"/>
<rect x="940" y="602" width="3" height="39" fill="#00ff00"/>
<rect x="948" y="617" width="3" height="24" fill="#00ff00"/>
<rect x="956" y="636" width="3" height="5" fill="#00ff00"/>
<rect x="964" y="641" width="3" height="19" fill="#00ff00"/>
<rect x="972" y="641" width="3" height="33" fill="#00ff00"/>
<rect x="980" y="641" width="3" height="47" fill="#00ff00"/>
<rect x="988" y="641" width="3" height="56" fill="#00ff00"/>
<rect x="996" y="641" width="3" height="64" fill="#00ff00"/>
<rect x="1004" y="641" width="3" height="73" fill="#00ff00"/>
<rect x="1012" y="641" width="3" height="79" fill="#00ff00"/>
<rect x="1020" y="641" width="3" height="81" fill="#00ff00"/>
<rect x="1028" y="641" width="3" height="83" fill="#00ff00"/>
<rect x="1036" y="641" width="3" height="90" fill="#00ff00"/>
<rect x="1044" y="641" width="3" height="97" fill="#00ff00"/>
<rect x="1052" y="641" width="3" height="110" fill="#00ff00"/>
<rect x="1060" y="641" width="3" height="120" fill="#00ff00"/>
<rect x="1068" y="641" width="3" height="120" fill="#00ff00"/>
<rect x="1076" y="641" width="3" height="123" fill="#00ff00"/>
<rect x="1084" y="641" width="3" height="130" fill="#00ff00"/>
<rect x="1092" y="641" width="3" height="127" fill="#00ff00"/>
<rect x="1100" y="641" width="3" height="126" fill="#00ff00"/>
<rect x="1108" y="641" width="3" height="125" fill="#00ff00"/>
<rect x="1116" y="641" width="3" height="121" fill="#00ff00"/>
<rect x="1124" y="641" width="3" height="104" fill="#00ff00"/>
<rect x="1132" y="641" width="3" height="97" fill="#00ff00"/>
<rect x="1140" y="641" width="3" height="78" fill="#00ff00"/>
<rect x="1148" y="641" width="3" height="67" fill="#00ff00"/>
<rect x="1156" y="641" width="3" height="58" fill="#00ff00"/>
<rect x="1164" y="641" width="3" height="51" fill="#00ff00"/>
<rect x="1172" y="641" width="3" height="48" fill="#00ff00"/>
<rect x="1180" y="641" width="3" height="45" fill="#00ff00"/>
<rect x="1188" y="641" width="3" height="40" fill="#00ff00"/>
<rect x="1196" y="641" width="3" height="34" fill="#00ff00"/>
<polyline points="5.5,685.8 13.5,685.8 21.5,685.8 29.5,685.4 37.5,685 45.5,686 53.5,686.9 61.5,687.9 69.5,691.5 77.5,695 85.5,700.4 93.5,706.7 101.5,712.6 109.5,718.7 117.5,725.3 125.5,731.5 133.5,738.6 141.5,743.7 149.5,747.9 157.5,750.9 165.5,751 173.5,751 181.5,750.6 189.5,747.2 197.5,743.4 205.5,738 213.5,733 221.5,727.9 229.5,722.8 237.5,718.4 245.5,715.6 253.5,711.5 261.5,709.6 269.5,706.4 277.5,704.5 285.5,701.4 293.5,697 301.5,691.9 309.5,685 317.5,678.3 325.5,670.4 333.5,662.2 341.5,653.3 349.5,643.8 357.5,635.5 365.5,628.8 373.5,621 381.5,615.3 389.5,611.2 397.5,611.2 405.5,611.2 413.5,615.3 421.5,621 429.5,626.7 437.5,634.9 445.5,642.5 453.5,650.7 461.5,658.3 469.5,664 477.5,667.8 485.5,667.8 493.5,666.2 501.5,664.3 509.5,660.5 517.5,655.7 525.5,651.9 533.5,647.9 541.5,645 549.5,644.3 557.5,644.3 565.5,646.9 573.5,648.7 581.5,650.9 589.5,651.9 597.5,651.9 605.5,651.9 613.5,651.7 621.5,648.1 629.5,644.3 637.5,639.3 645.5,635.1 653.5,631.1 661.5,629.2 669.5,627.2 677.5,626 685.5,626 693.5,626.2 701.5,628.7 709.5,632.2 717.5,635.1 725.5,638.2 733.5,641.6 741.5,642.9 749.5,642.6 757.5,641.8 765.5,638.2 773.5,634.4 781.5,629 789.5,622.6 797.5,613.5 805.5,602.7 813.5,592 821.5,582.2 829.5,573 837.5,564.6 845.5,558.3 853.5,553.9 861.5,550.7 869.5,547.6 877.5,547.2 885.5,548.2 893.5,550.4 901.5,553.3 909.5,556.4 917.5,560.2 925.5,563.4 933.5,568.4 941.5,574.1 949.5,580.4 957.5,589.9 965.5,600.3 973.5,613.6 981.5,625.5 989.5,639.2 997.5,651.8 1005.5,665.1 1013.5,678.3 1021.5,690.2 1029.5,699.6 1037.5,707.7 1045.5,716 1053.5,722.9 1061.5,729.9 1069.5,735.5 1077.5,740.6 1085.5,746.3 1093.5,751.3 1101.5,756.4 1109.5,760.6 1117.5,762.7 1125.5,762.7 1133.5,759.5 1141.5,755.5 1149.5,749.4 1157.5,741.9 1165.5,731.1 1173.5,721 1181.5,712.1 1189.5,704.5 1197.5,698.9" fill="none" stroke="#ff0000" stroke-width="2" stroke-linejoin="round"/>
<rect x="5" y="438" width="1514" height="4" fill="#0000cd"/>
<rect x="2" y="2" width="2" height="806" fill="#fff"/>
<rect x="4" y="4" width="1514" height="1" fill="#000"/>
<rect x="4" y="522" width="1514" height="1" fill="#000"/>
<rect x="4" y="524" width="1514" height="1" fill="#000"/>
<rect x="4" y="782" width="1514" height="1" fill="#000"/>
<rect x="4" y="4" width="1" height="779" fill="#000"/>
<rect x="1517" y="4" width="1" height="779" fill="#000"/>
<rect x="1517" y="383" width="2" height="1" fill="#707070"/>
<rect x="4" y="523" width="1514" height="1" fill="#fff"/>
<rect x="1518" y="526" width="1" height="1" fill="#000"/>
<rect x="1518" y="781" width="1" height="1" fill="#000"/>
<rect x="1517" y="438" width="2" height="4" fill="#0000cd"/>
<rect x="1518" y="32" width="2" height="1" fill="#000"/>
<rect x="1518" y="97" width="2" height="1" fill="#000"/>
<rect x="1518" y="162" width="2" height="1" fill="#000"/>
<rect x="1518" y="227" width="2" height="1" fill="#000"/>
<rect x="1518" y="292" width="2" height="1" fill="#000"/>
<rect x="1518" y="357" width="2" height="1" fill="#000"/>
<rect x="1518" y="422" width="2" height="1" fill="#000"/>
<rect x="1518" y="487" width="2" height="1" fill="#000"/>
<rect x="1518" y="641" width="1" height="1" fill="#000"/>
<rect x="5" y="783" width="1" height="3" fill="#000"/>
<rect x="133" y="783" width="1" height="3" fill="#000"/>
<rect x="261" y="783" width="1" height="3" fill="#000"/>
<rect x="389" y="783" width="1" height="3" fill="#000"/>
<rect x="517" y="783" width="1" height="3" fill="#000"/>
<rect x="645" y="783" width="1" height="3" fill="#000"/>
<rect x="773" y="783" width="1" height="3" fill="#000"/>
<rect x="901" y="783" width="1" height="3" fill="#000"/>
<rect x="1029" y="783" width="1" height="3" fill="#000"/>
<rect x="1157" y="783" width="1" height="3" fill="#000"/>
<rect x="1519" y="375" width="54" height="17" fill="#000"/>
<rect x="1519" y="434" width="54" height="17" fill="#0000cd"/>
</g>
<polygon points="1206,5 1222,5 1213.7,13.3" fill="#6a6a6a"/>
<polygon points="8,12 19.5,12 13.75,18.2" fill="#000"/>
<line x1="1207.7" y1="433.4" x2="1247.4" y2="277.5" stroke="#ff0000" stroke-width="5.6" stroke-linecap="round"/>
<polygon points="1255.7,242.8 1235.6,274.9 1258.8,280.3" fill="#ff0000"/>
<text x="25.5" y="21" textLength="89" lengthAdjust="spacingAndGlyphs">CHINA300-,H4</text>
<text x="123.2" y="21" textLength="43.8" lengthAdjust="spacingAndGlyphs">3788.6</text>
<text x="171.3" y="21" textLength="43.8" lengthAdjust="spacingAndGlyphs">3795.7</text>
<text x="219.4" y="21" textLength="43.8" lengthAdjust="spacingAndGlyphs">3783.1</text>
<text x="266.9" y="21" textLength="43.8" lengthAdjust="spacingAndGlyphs">3795.4</text>
<text x="8.7" y="542" textLength="185.4" lengthAdjust="spacingAndGlyphs">MACD(12,26,9) -14.11 -24.29</text>
<text x="1524.2" y="38" textLength="43.8" lengthAdjust="spacingAndGlyphs">4078.5</text>
<text x="1524.2" y="103" textLength="43.8" lengthAdjust="spacingAndGlyphs">4026.0</text>
<text x="1524.2" y="168" textLength="43.8" lengthAdjust="spacingAndGlyphs">3973.5</text>
<text x="1524.2" y="233" textLength="43.8" lengthAdjust="spacingAndGlyphs">3921.5</text>
<text x="1524.2" y="298" textLength="43.8" lengthAdjust="spacingAndGlyphs">3869.0</text>
<text x="1524.2" y="363" textLength="43.8" lengthAdjust="spacingAndGlyphs">3816.5</text>
<text x="1524.2" y="428" textLength="43.8" lengthAdjust="spacingAndGlyphs">3764.0</text>
<text x="1524.2" y="493" textLength="43.8" lengthAdjust="spacingAndGlyphs">3711.5</text>
<text x="1524.2" y="389" textLength="43.8" lengthAdjust="spacingAndGlyphs" class="w">3795.4</text>
<text x="1524.2" y="448" textLength="43.8" lengthAdjust="spacingAndGlyphs" class="w">3750.0</text>
<text x="1521" y="540" textLength="36.4" lengthAdjust="spacingAndGlyphs">49.72</text>
<text x="1521" y="647" textLength="28.7" lengthAdjust="spacingAndGlyphs">0.00</text>
<text x="1521.3" y="777.5" textLength="40.5" lengthAdjust="spacingAndGlyphs">-60.39</text>
<text x="4.1" y="800" textLength="80.95" lengthAdjust="spacingAndGlyphs">18 May 2023</text>
<text x="131.1" y="800" textLength="87.3" lengthAdjust="spacingAndGlyphs">30 May 01:30</text>
<text x="258.7" y="800" textLength="76.2" lengthAdjust="spacingAndGlyphs">9 Jun 01:30</text>
<text x="386.8" y="800" textLength="84" lengthAdjust="spacingAndGlyphs">21 Jun 01:30</text>
<text x="515.4" y="800" textLength="69.5" lengthAdjust="spacingAndGlyphs">5 Jul 01:30</text>
<text x="643.5" y="800" textLength="77.3" lengthAdjust="spacingAndGlyphs">17 Jul 01:30</text>
<text x="771.1" y="800" textLength="77.8" lengthAdjust="spacingAndGlyphs">27 Jul 01:30</text>
<text x="899.1" y="800" textLength="78.25" lengthAdjust="spacingAndGlyphs">8 Aug 01:30</text>
<text x="1027.5" y="800" textLength="85.5" lengthAdjust="spacingAndGlyphs">18 Aug 01:30</text>
<text x="1155.1" y="800" textLength="86" lengthAdjust="spacingAndGlyphs">30 Aug 01:30</text>
</svg></body></html>
